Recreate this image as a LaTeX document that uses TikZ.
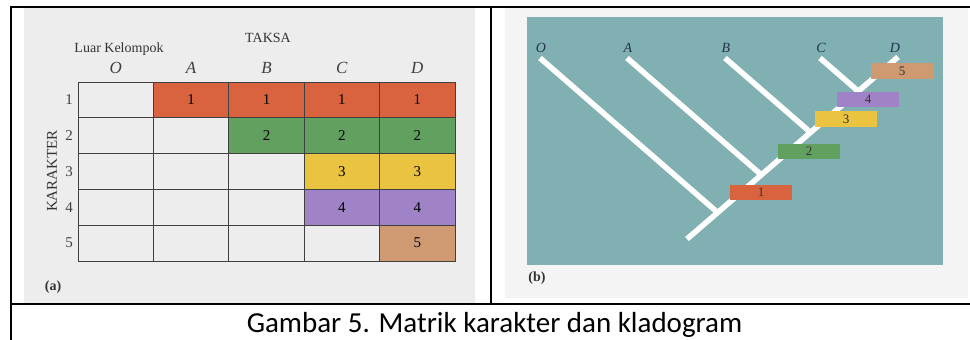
\documentclass[tikz,border=0pt]{standalone}
\usepackage{fontspec}
\setmainfont{Liberation Serif}
\newfontfamily\capfont{Carlito}
\usetikzlibrary{positioning}

\definecolor{chorange}{HTML}{D9633F}
\definecolor{chgreen}{HTML}{62A060}
\definecolor{chyellow}{HTML}{EAC340}
\definecolor{chpurple}{HTML}{A083C6}
\definecolor{chtan}{HTML}{CF9A72}
\definecolor{paper}{HTML}{EEEDED}
\definecolor{teal}{HTML}{80B0B2}
\definecolor{navy}{HTML}{24324F}

\begin{document}
\begin{tikzpicture}[x=1pt, y=-1pt,
  cell/.style={draw=black!75, line width=0.9pt, minimum width=75.4pt,
    minimum height=35.8pt, inner sep=0pt, font=\fontsize{15}{15}\selectfont},
  tag/.style={minimum width=62pt, minimum height=15.5pt, inner sep=0pt,
    font=\fontsize{13}{13}\selectfont, text=black!80},
  branch/.style={white, line width=5.5pt},
  taxon/.style={font=\fontsize{17}{17}\selectfont\itshape, text=black!75},
  tiplabel/.style={font=\fontsize{14}{14}\selectfont\itshape, text=navy}]

\useasboundingbox (0,0) rectangle (970,340);

% Photos
\fill[paper] (24,7) rectangle (475,303);
\fill[paper!60!white] (505,7) rectangle (968,298);
\fill[teal] (527,17) rectangle (943,265);

% Table rules
\draw[line width=2pt] (10,6.5) -- (970,6.5);
\draw[line width=2pt] (10.5,6) -- (10.5,340);
\draw[line width=2pt] (491,6) -- (491,304);
\draw[line width=2pt] (10,304) -- (970,304);

% Matrix (a)
\node[font=\fontsize{14}{14}\selectfont, text=black!80] (taksa) at (268,38) {TAKSA};
\node[font=\fontsize{14}{14}\selectfont, text=black!80] (luar) at (119,49) {Luar Kelompok};
\node[rotate=90, font=\fontsize{15}{15}\selectfont, text=black!80] (karakter) at (52,171) {KARAKTER};
\foreach \c [count=\i from 0] in {O,A,B,C,D}
  \node[taxon] (h-\c) at ({115.7+75.4*\i},68) {\c};
\foreach \r in {1,...,5} {
  \node[font=\fontsize{15}{15}\selectfont, text=black!75] (row-\r) at (69,{99.9+35.8*(\r-1)}) {\r};
  \foreach \i in {0,...,4}
    \node[cell] (m-\r-\i) at ({115.7+75.4*\i},{99.9+35.8*(\r-1)}) {};
}
\foreach \r/\s/\col in {1/1/chorange, 2/2/chgreen, 3/3/chyellow, 4/3/chpurple, 5/4/chtan}
  \foreach \i in {\s,...,4}
    \node[cell, fill=\col] (f-\r-\i) at ({115.7+75.4*\i},{99.9+35.8*(\r-1)}) {\r};
\node[font=\fontsize{14}{14}\selectfont\bfseries, text=black!80] (lab-a) at (53,287) {(a)};

% Cladogram (b)
\coordinate (root) at (687,239);
\coordinate (tipD) at (898,57);
\draw[branch] (root) -- (tipD);
\node[tiplabel] (nD) at (895,48) {D};
\foreach \t/\x in {O/540, A/627, B/725, C/820} {
  \coordinate (tip\t) at (\x,58);
  \coordinate (dir\t) at ({\x+200},232);
  \draw[branch] (tip\t) -- (intersection of root--tipD and tip\t--dir\t);
  \node[tiplabel] (n\t) at ({\x+1},48) {\t};
}
\foreach \n/\x/\y/\col in {1/761/192.5/chorange, 2/809/151.5/chgreen,
    3/846/119/chyellow, 4/868/99.5/chpurple, 5/902/71/chtan}
  \node[tag, fill=\col] (ch\n) at (\x,\y) {\n};
\node[font=\fontsize{14}{14}\selectfont\bfseries, text=black!80] (lab-b) at (537,278) {(b)};

% Caption
\node[anchor=base, font=\capfont\fontsize{29}{29}\selectfont] (caption) at (494.5,332)
  {Gambar 5. Matrik karakter dan kladogram};

\end{tikzpicture}
\end{document}
